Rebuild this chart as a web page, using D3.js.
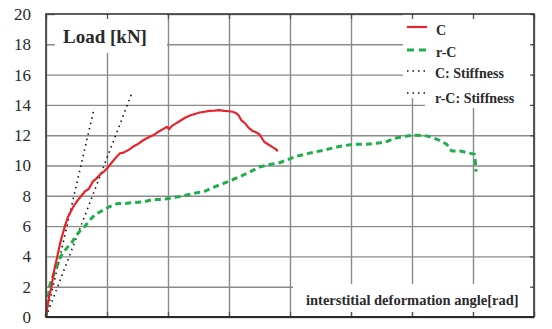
<!DOCTYPE html>
<html>
<head>
<meta charset="utf-8">
<script src="https://cdnjs.cloudflare.com/ajax/libs/d3/7.8.5/d3.min.js"></script>
<style>
  body { margin: 0; background: #fff; }
  text { font-family: "Liberation Serif", "Times New Roman", serif; fill: #2a2a2a; }
</style>
</head>
<body>
<script>
// load vs. interstitial deformation angle (x in grid units, no tick labels)

var yTicks = [0, 2, 4, 6, 8, 10, 12, 14, 16, 18, 20];
var xTicks = [0, 1, 2, 3, 4, 5, 6, 7, 8];

var cAngle = [0, 0.03, 0.06, 0.09, 0.13, 0.185, 0.24, 0.31, 0.36, 0.45, 0.52, 0.58, 0.64, 0.7, 0.77,
  0.83, 0.9, 0.95, 1.0, 1.06, 1.13, 1.21, 1.27, 1.32, 1.38, 1.43, 1.5, 1.57, 1.63, 1.7, 1.78, 1.85,
  1.92, 1.98, 2.02, 2.06, 2.12, 2.2, 2.28, 2.36, 2.44, 2.52, 2.6, 2.68, 2.76, 2.84, 2.92, 3.0, 3.06,
  3.12, 3.16, 3.2, 3.26, 3.32, 3.38, 3.44, 3.5, 3.54, 3.58, 3.64, 3.7, 3.76, 3.8];
var cLoad = [0, 0.9, 1.5, 2.0, 3.0, 4.0, 5.0, 6.0, 6.6, 7.3, 7.7, 8.0, 8.3, 8.45, 8.95,
  9.15, 9.45, 9.6, 9.8, 10.1, 10.45, 10.8, 10.85, 10.95, 11.1, 11.25, 11.4, 11.6, 11.75, 11.9, 12.05, 12.25,
  12.4, 12.55, 12.4, 12.6, 12.75, 12.95, 13.15, 13.3, 13.4, 13.5, 13.55, 13.6, 13.62, 13.65, 13.6, 13.58, 13.55,
  13.45, 13.3, 13.0, 12.8, 12.5, 12.3, 12.2, 12.05, 11.8, 11.55, 11.4, 11.25, 11.1, 10.95];

var rcAngle = [0, 0.03, 0.055, 0.1, 0.15, 0.24, 0.33, 0.42, 0.5, 0.57, 0.64, 0.72, 0.8, 0.94, 1.05,
  1.18, 1.3, 1.43, 1.6, 1.75, 1.9, 1.98, 2.1, 2.2, 2.41, 2.6, 2.74, 2.9, 3.02, 3.2, 3.35, 3.5, 3.65,
  3.84, 4.1, 4.3, 4.54, 4.8, 5.03, 5.25, 5.48, 5.6, 5.72, 5.92, 6.05, 6.2, 6.3, 6.43, 6.57, 6.62,
  6.66, 6.79, 6.9, 7.02, 7.04, 7.05];
var rcLoad = [0, 1.0, 2.0, 2.6, 3.0, 4.0, 4.5, 4.9, 5.4, 5.75, 6.0, 6.4, 6.75, 7.06, 7.3,
  7.5, 7.5, 7.55, 7.6, 7.75, 7.75, 7.8, 7.9, 7.95, 8.15, 8.3, 8.55, 8.8, 9.0, 9.3, 9.6, 9.9, 10.05,
  10.2, 10.6, 10.8, 11.0, 11.25, 11.4, 11.4, 11.5, 11.6, 11.8, 11.95, 12.0, 11.98, 11.9, 11.7, 11.4, 11.05,
  10.95, 10.95, 10.85, 10.75, 10.2, 9.6];

// stiffness lines: start and end points
var cStiffAngle = [0, 0.79];
var cStiffLoad = [0, 13.8];
var rcStiffAngle = [0, 1.41];
var rcStiffLoad = [0, 14.8];

var legendLabels = ["C", "r-C", "C: Stiffness", "r-C: Stiffness"];

var margin = {top: 14, right: 18, bottom: 12, left: 46},
    width = 552 - margin.left - margin.right,
    height = 329 - margin.top - margin.bottom;

var x = d3.scaleLinear().domain([0, 8]).range([0, width]);
var y = d3.scaleLinear().domain([0, 20]).range([height, 0]);

var svg = d3.select("body").append("svg")
    .attr("width", 552)
    .attr("height", 329)
  .append("g")
    .attr("transform", "translate(" + margin.left + "," + margin.top + ")");

// grid
svg.append("g")
    .attr("class", "grid")
    .call(d3.axisLeft(y).tickValues(yTicks).tickSize(-width).tickFormat(""))
    .call(function(g) { g.select(".domain").remove(); })
    .selectAll("line").attr("stroke", "#8a8a8a").attr("stroke-width", 1.4);

svg.append("g")
    .attr("class", "grid")
    .attr("transform", "translate(0," + height + ")")
    .call(d3.axisBottom(x).tickValues(xTicks).tickSize(-height).tickFormat(""))
    .call(function(g) { g.select(".domain").remove(); })
    .selectAll("line").attr("stroke", "#8a8a8a").attr("stroke-width", 1.4);

// y labels
svg.append("g")
    .call(d3.axisLeft(y).tickValues(yTicks).tickSize(0).tickPadding(15))
    .call(function(g) { g.select(".domain").remove(); })
    .selectAll("text")
      .style("font-family", "'Liberation Serif', serif")
      .attr("font-size", "17px")
      .attr("fill", "#333");

var line = d3.line()
    .x(function(d) { return x(d[0]); })
    .y(function(d) { return y(d[1]); });

function pairs(a, b) { return a.map(function(v, i) { return [v, b[i]]; }); }

svg.append("path")
    .datum(pairs(cStiffAngle, cStiffLoad))
    .attr("d", line)
    .attr("fill", "none")
    .attr("stroke", "#111")
    .attr("stroke-width", 1.6)
    .attr("stroke-dasharray", "1.5,4");

svg.append("path")
    .datum(pairs(rcStiffAngle, rcStiffLoad))
    .attr("d", line)
    .attr("fill", "none")
    .attr("stroke", "#111")
    .attr("stroke-width", 1.6)
    .attr("stroke-dasharray", "1.5,4");

svg.append("path")
    .datum(pairs(rcAngle, rcLoad))
    .attr("d", line)
    .attr("fill", "none")
    .attr("stroke", "#1fae4b")
    .attr("stroke-width", 3)
    .attr("stroke-dasharray", "6,4");

svg.append("path")
    .datum(pairs(cAngle, cLoad))
    .attr("d", line)
    .attr("fill", "none")
    .attr("stroke", "#e8222a")
    .attr("stroke-width", 2.2)
    .attr("stroke-linejoin", "round");

// white boxes behind labels
svg.append("rect").attr("x", 9).attr("y", 0).attr("width", 112).attr("height", 39).attr("fill", "#fff");
svg.append("rect").attr("x", 357).attr("y", 0).attr("width", 129).attr("height", 84).attr("fill", "#fff");
svg.append("rect").attr("x", 379).attr("y", 80).attr("width", 107).attr("height", 14).attr("fill", "#fff");
svg.append("rect").attr("x", 247).attr("y", 270).attr("width", 239).attr("height", 28).attr("fill", "#fff");

svg.append("text")
    .attr("x", 17)
    .attr("y", 29)
    .attr("font-size", "19px")
    .attr("font-weight", "bold")
    .text("Load [kN]");

svg.append("text")
    .attr("x", 260)
    .attr("y", 291)
    .attr("font-size", "14.5px")
    .attr("font-weight", "bold")
    .text("interstitial deformation angle[rad]");

// legend
var legendStyle = [
  {color: "#e8222a", dash: null, w: 2.2},
  {color: "#1fae4b", dash: "7,5", w: 3},
  {color: "#111", dash: "1.5,4", w: 1.6},
  {color: "#111", dash: "1.5,4", w: 1.6}
];
var legendLineY = [13, 36, 57, 79];
var legendTextY = [21, 43, 64, 89];
var legendTextX = [390, 390, 389, 389];

var legend = svg.append("g").attr("class", "legend");
legend.selectAll("line")
    .data(legendLabels)
    .enter()
  .append("line")
    .attr("x1", 361)
    .attr("x2", 381)
    .attr("y1", function(d, i) { return legendLineY[i]; })
    .attr("y2", function(d, i) { return legendLineY[i]; })
    .attr("stroke", function(d, i) { return legendStyle[i].color; })
    .attr("stroke-width", function(d, i) { return legendStyle[i].w; })
    .attr("stroke-dasharray", function(d, i) { return legendStyle[i].dash; });

legend.selectAll("text")
    .data(legendLabels)
    .enter()
  .append("text")
    .attr("x", function(d, i) { return legendTextX[i]; })
    .attr("y", function(d, i) { return legendTextY[i]; })
    .attr("font-size", "14px")
    .attr("font-weight", "bold")
    .text(function(d) { return d; });

// inward ticks on all sides
function ticks(g) { g.select(".domain").remove(); g.selectAll("text").remove(); g.selectAll("line").attr("stroke", "#555").attr("stroke-width", 1.3); }
svg.append("g").attr("transform", "translate(0," + height + ")").call(d3.axisBottom(x).tickValues(xTicks).tickSize(-5)).call(ticks);
svg.append("g").call(d3.axisTop(x).tickValues(xTicks).tickSize(-5)).call(ticks);
svg.append("g").attr("transform", "translate(" + width + ",0)").call(d3.axisRight(y).tickValues(yTicks).tickSize(-4)).call(ticks);

// frame
svg.append("rect")
    .attr("width", width)
    .attr("height", height)
    .attr("fill", "none")
    .attr("stroke", "#3a3a3a")
    .attr("stroke-width", 1.6);
svg.append("line")
    .attr("x1", 0).attr("x2", width)
    .attr("y1", height).attr("y2", height)
    .attr("stroke", "#2a2a2a")
    .attr("stroke-width", 2.2);
</script>
</body>
</html>
